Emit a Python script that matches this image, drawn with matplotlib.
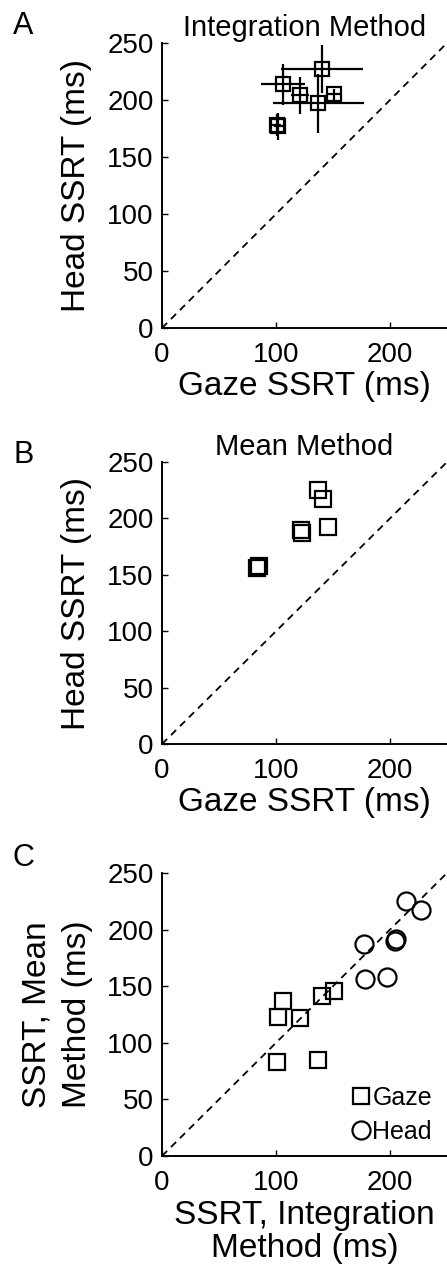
import numpy as np
import matplotlib
matplotlib.use('Agg')
import matplotlib.pyplot as plt

plt.rcParams['font.family'] = ['Liberation Sans', 'DejaVu Sans']

# per-subject SSRT (ms)
gaze_int = [100.6, 137, 106, 140, 151, 102, 121]
head_int = [178, 197, 214, 227, 205, 177, 204]
gaze_int_err = [4, 40, 19, 36, 5, 4, 8]
head_int_err = [10, 26, 18, 21, 5, 12, 16]
gaze_mean = [83, 85, 137, 141.6, 146, 122.6, 122]
head_mean = [156, 158, 225, 217, 192, 187, 190]

x_ticks = [0, 100, 200]
y_ticks = [0, 50, 100, 150, 200, 250]

W, H = 447, 1275
fig = plt.figure(figsize=(W / 100, H / 100), dpi=100)


def make_ax(top_px, bottom_px):
    ax = fig.add_axes([162 / W, 1 - bottom_px / H, 285 / W, (bottom_px - top_px) / H])
    ax.set_xlim(0, 250)
    ax.set_ylim(0, 250)
    ax.set_xticks(x_ticks)
    ax.set_yticks(y_ticks)
    for s in ['top', 'right']:
        ax.spines[s].set_visible(False)
    for s in ['left', 'bottom']:
        ax.spines[s].set_linewidth(1.4)
    ax.tick_params(direction='in', length=4, width=1.0, labelsize=20)
    ax.tick_params(axis='x', pad=10)
    ax.tick_params(axis='y', pad=6)
    ax.plot([0, 250], [0, 250], color='black', lw=1.3, linestyle=(0, (4, 3)))
    return ax


# A
axA = make_ax(43, 328)
axA.errorbar(gaze_int, head_int, xerr=gaze_int_err, yerr=head_int_err, fmt='s',
             color='black', ecolor='black', elinewidth=1.6, capsize=0,
             markersize=10.5, markerfacecolor='none', markeredgewidth=1.6)
axA.set_xlabel('Gaze SSRT (ms)', fontsize=24, labelpad=2)
axA.set_ylabel('Head SSRT (ms)', fontsize=24, labelpad=11)
axA.set_title('Integration Method', fontsize=21, pad=5)
fig.text(13 / W, 1 - 26 / H, 'A', fontsize=22, va='center', ha='left')

# B
axB = make_ax(462, 744)
axB.plot(gaze_mean, head_mean, 's', color='black', markersize=11,
         markerfacecolor='none', markeredgewidth=1.6)
axB.set_xlabel('Gaze SSRT (ms)', fontsize=24, labelpad=2)
axB.set_ylabel('Head SSRT (ms)', fontsize=24, labelpad=11)
axB.set_title('Mean Method', fontsize=21, pad=5)
fig.text(13 / W, 1 - 455 / H, 'B', fontsize=22, va='center', ha='left')

# C
axC = make_ax(873, 1156)
axC.plot(gaze_int, gaze_mean, 's', color='black', markersize=11,
         markerfacecolor='none', markeredgewidth=1.6, label='Gaze')
axC.plot(head_int, head_mean, 'o', color='black', markersize=13,
         markerfacecolor='none', markeredgewidth=1.6, label='Head')
axC.set_xlabel('SSRT, Integration\nMethod (ms)', fontsize=24, labelpad=3, linespacing=1.1)
axC.set_ylabel('SSRT, Mean\nMethod (ms)', fontsize=24, labelpad=10, linespacing=1.4)
axC.legend(loc='lower right', frameon=False, fontsize=18, handlelength=0.6,
           handletextpad=0.15, labelspacing=0.4, borderaxespad=0.2,
           bbox_to_anchor=(1.0, -0.01))
fig.text(13 / W, 1 - 858 / H, 'C', fontsize=22, va='center', ha='left')

fig.savefig('out.png', dpi=100)
